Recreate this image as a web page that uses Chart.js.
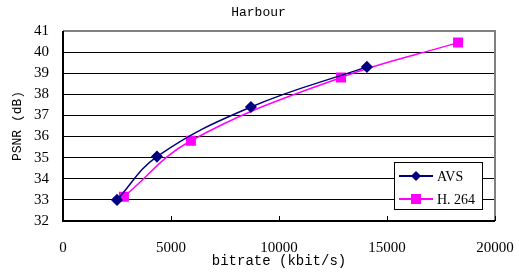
<!DOCTYPE html>
<html>
<head>
<meta charset="utf-8">
<script src="https://cdn.jsdelivr.net/npm/chart.js@4"></script>
<style>
  html, body { margin: 0; padding: 0; background: #fff; }
  #wrap { width: 519px; height: 272px; }
</style>
</head>
<body>
<div id="wrap"><canvas id="psnrChart" width="519" height="272"></canvas></div>
<script>
// data
const chartTitle = "Harbour";
const seriesNames = ["AVS", "H. 264"];
const avsBitrate = [2500, 4350, 8700, 14070];
const avsPsnr = [33.0, 35.05, 37.4, 39.3];
const h264Bitrate = [2820, 5920, 12870, 18290];
const h264Psnr = [33.15, 35.8, 38.8, 40.45];

const ctx = document.getElementById("psnrChart").getContext("2d");

function toPoints(xs, ys) {
  return xs.map((x, i) => ({ x: x, y: ys[i] }));
}

// frame: dark left/bottom axis lines, grey top/right, plus the title
const framePlugin = {
  id: "frame",
  afterDraw(chart) {
    const a = chart.chartArea;
    const c = chart.ctx;
    c.save();
    c.lineWidth = 2;
    c.strokeStyle = "#808080";
    c.beginPath();
    c.moveTo(a.left, a.top);
    c.lineTo(a.right, a.top);
    c.lineTo(a.right, a.bottom);
    c.stroke();
    c.strokeStyle = "#000";
    c.beginPath();
    c.moveTo(a.left, a.top);
    c.lineTo(a.left, a.bottom);
    c.lineTo(a.right, a.bottom);
    c.stroke();
    // little tick marks on x axis
    const xs = chart.scales.x;
    c.lineWidth = 1;
    xs.ticks.forEach((t) => {
      const px = Math.round(xs.getPixelForValue(t.value)) + 0.5;
      c.beginPath();
      c.moveTo(px, a.bottom);
      c.lineTo(px, a.bottom - 5);
      c.stroke();
    });
    // title
    c.fillStyle = "#000";
    c.font = "13px 'Liberation Mono', monospace";
    c.textAlign = "center";
    c.textBaseline = "middle";
    c.fillText(chartTitle, chart.width / 2 - 1, 13);
    c.restore();
  },
};

// legend box inside the plot, lower right
const boxLegend = {
  id: "boxLegend",
  afterDraw(chart) {
    const a = chart.chartArea;
    const c = chart.ctx;
    const w = 88, h = 47;
    const x0 = a.right - 13 - w;
    const y0 = a.bottom - 12 - h;
    c.save();
    c.fillStyle = "#fff";
    c.fillRect(x0, y0, w, h);
    c.strokeStyle = "#000";
    c.lineWidth = 1;
    c.strokeRect(x0 + 0.5, y0 + 0.5, w, h);
    chart.data.datasets.forEach((ds, i) => {
      const y = y0 + 14 + i * 23;
      c.strokeStyle = ds.borderColor;
      c.lineWidth = 2;
      c.beginPath();
      c.moveTo(x0 + 5, y);
      c.lineTo(x0 + 39, y);
      c.stroke();
      c.fillStyle = ds.pointBackgroundColor;
      const cx = x0 + 22;
      if (ds.pointStyle === "rectRot") {
        c.beginPath();
        c.moveTo(cx, y - 5);
        c.lineTo(cx + 5, y);
        c.lineTo(cx, y + 5);
        c.lineTo(cx - 5, y);
        c.closePath();
        c.fill();
      } else {
        c.fillRect(cx - 5, y - 5, 10, 10);
      }
      c.fillStyle = "#000";
      c.font = "14px 'Liberation Serif', serif";
      c.textBaseline = "middle";
      c.fillText(ds.label, x0 + 43, y + 1);
    });
    c.restore();
  },
};

const psnrChart = new Chart(ctx, {
  type: "line",
  data: {
    datasets: [
      {
        label: seriesNames[0],
        data: toPoints(avsBitrate, avsPsnr),
        borderColor: "#000080",
        backgroundColor: "#000080",
        pointBackgroundColor: "#000080",
        pointBorderColor: "#000080",
        pointStyle: "rectRot",
        pointRadius: 5,
        borderWidth: 1.5,
        tension: 0.4,
      },
      {
        label: seriesNames[1],
        data: toPoints(h264Bitrate, h264Psnr),
        borderColor: "#ff00ff",
        backgroundColor: "#ff00ff",
        pointBackgroundColor: "#ff00ff",
        pointBorderColor: "#ff00ff",
        pointStyle: "rect",
        pointRadius: 6,
        borderWidth: 1.5,
        tension: 0.4,
      },
    ],
  },
  options: {
    responsive: false,
    animation: false,
    layout: { padding: { top: 31, right: 24, left: 0, bottom: 0 } },
    plugins: {
      legend: { display: false },
      tooltip: { enabled: false },
      title: { display: false },
    },
    scales: {
      x: {
        type: "linear",
        min: 0,
        max: 20000,
        afterFit(scale) {
          scale.height = 51;
          scale.paddingLeft = 0;
          scale.paddingRight = 0;
        },
        grid: { display: false, drawTicks: false },
        border: { display: false },
        ticks: {
          stepSize: 5000,
          padding: 18,
          color: "#000",
          maxRotation: 0,
          callback: (v) => String(v),
          font: { family: "'Liberation Serif', serif", size: 15 },
        },
        title: {
          display: true,
          text: "bitrate (kbit/s)",
          color: "#000",
          padding: { top: 0, bottom: 2 },
          font: { family: "'Liberation Mono', monospace", size: 14 },
        },
      },
      y: {
        min: 32,
        max: 41,
        afterFit(scale) {
          scale.width = 63;
          scale.paddingTop = 0;
          scale.paddingBottom = 0;
        },
        grid: { color: "#000", lineWidth: 1, drawTicks: false },
        border: { display: false },
        ticks: {
          stepSize: 1,
          padding: 14,
          color: "#000",
          font: { family: "'Liberation Serif', serif", size: 15 },
        },
        title: {
          display: true,
          text: "PSNR (dB)",
          color: "#000",
          padding: { top: 10, bottom: 4 },
          font: { family: "'Liberation Mono', monospace", size: 13 },
        },
      },
    },
  },
  plugins: [framePlugin, boxLegend],
});
</script>
</body>
</html>
